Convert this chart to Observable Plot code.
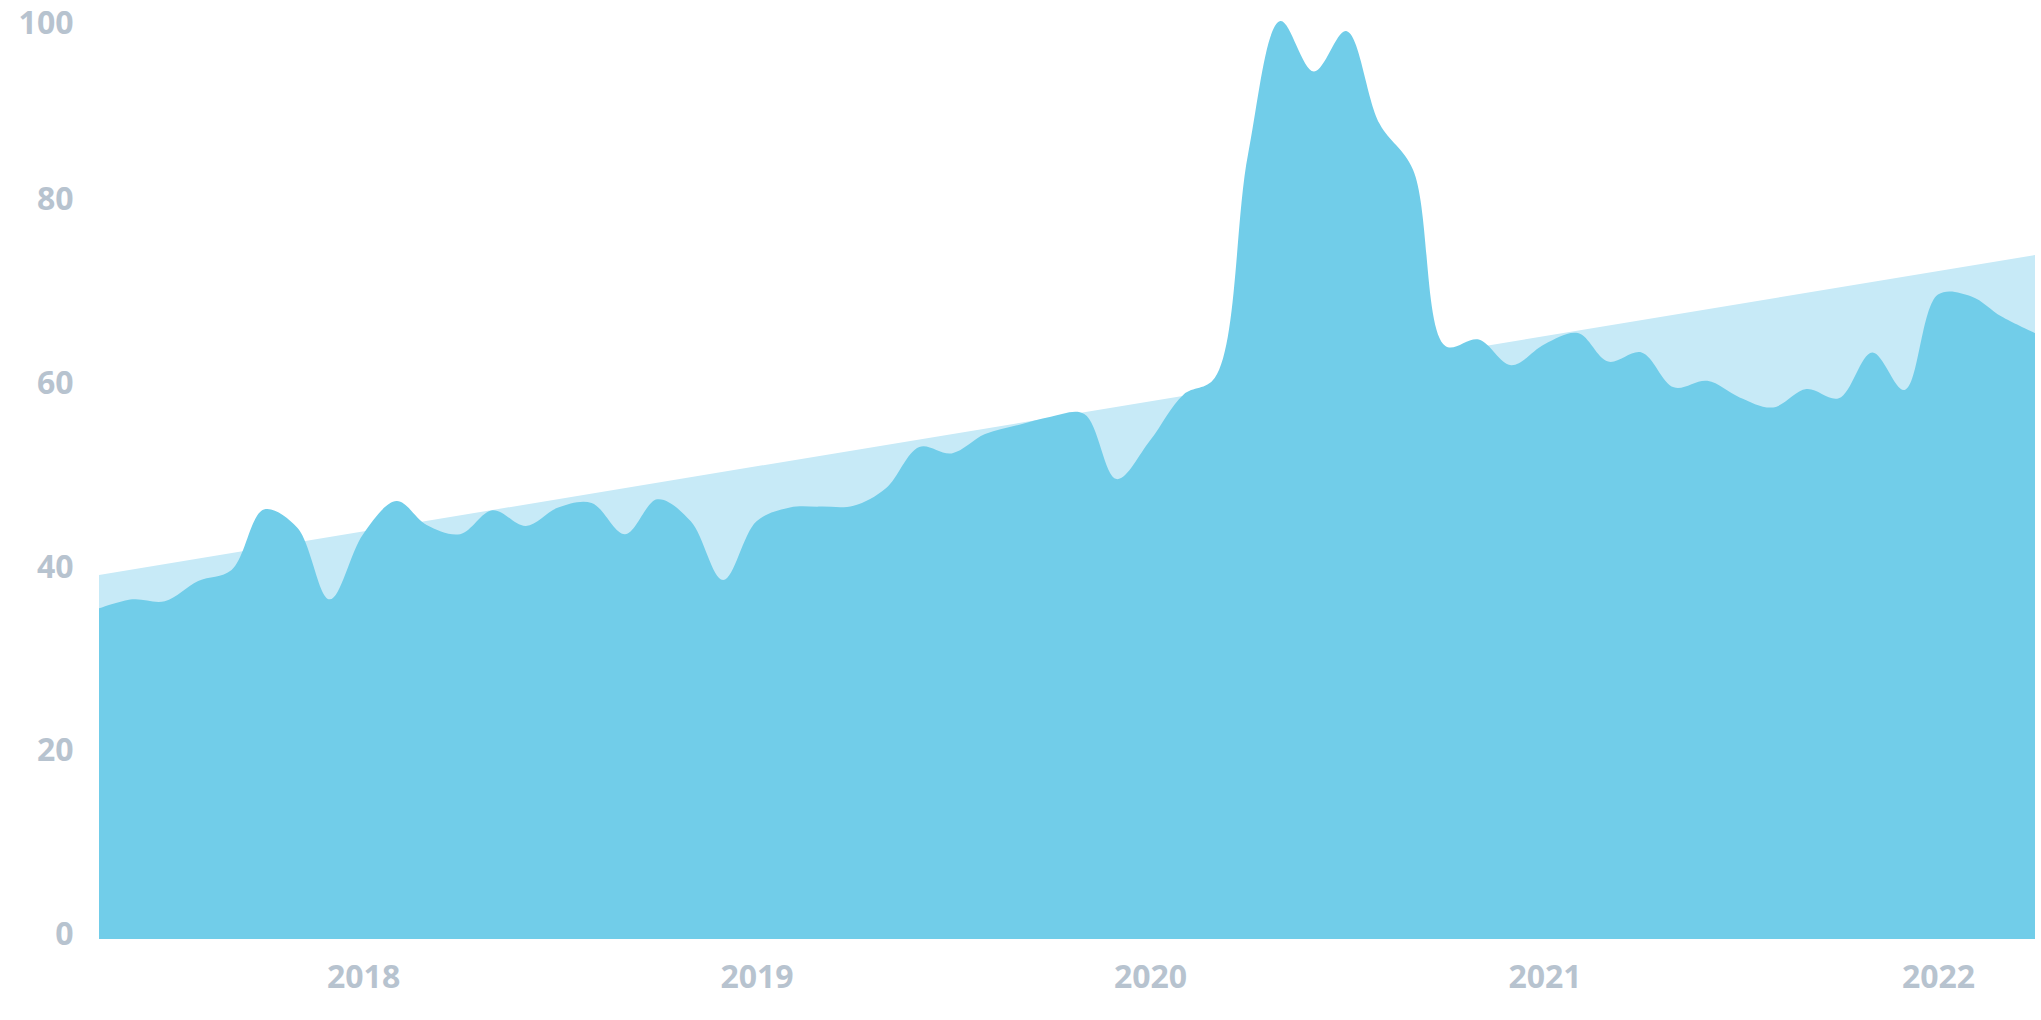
<!DOCTYPE html>
<html>
<head>
<meta charset="utf-8">
<script src="https://cdn.jsdelivr.net/npm/d3@7"></script>
<script src="https://cdn.jsdelivr.net/npm/@observablehq/plot@0.6"></script>
<style>
  html, body { margin: 0; padding: 0; background: #ffffff; }
  #chart svg { display: block; }
</style>
</head>
<body>
<div id="chart"></div>
<script>
// Monthly series, May 2017 – April 2022
const firstMonth = "2017-05-01";
const interest = [
  36.0, 37.0, 36.8, 39.0, 40.2, 46.8, 44.8, 37.0,           // 2017-05 .. 2017-12
  44.1, 47.7, 45.1, 44.1, 46.7, 45.0, 47.0, 47.5, 44.1, 47.9, 45.5, 39.1, // 2018
  45.5, 47.0, 47.1, 47.2, 49.1, 53.6, 52.9, 55.0, 56.0, 56.9, 57.2, 50.1, // 2019
  54.3, 59.3, 61.1, 85.5, 100, 94.5, 98.9, 88.8, 83.8, 64.6, 65.3, 62.5,  // 2020
  64.8, 66.0, 62.9, 63.9, 60.1, 60.8, 59.0, 57.9, 59.9, 58.9, 63.9, 59.8, // 2021
  70.2, 70.0, 67.8, 66.0                                     // 2022-01 .. 2022-04
];
// Trend (straight band behind the series)
const trendDates = ["2017-05-01", "2022-04-01"];
const trendValues = [39.65, 74.5];
// Axis ticks
const yTicks = [0, 20, 40, 60, 80];
const yTopTick = [100];
const xTickYears = [2018, 2019, 2020, 2021, 2022];

const start = new Date(firstMonth);
const series = interest.map((v, i) => ({date: d3.utcMonth.offset(start, i), value: v}));
const trend = trendDates.map((d, i) => ({date: new Date(d), value: trendValues[i]}));

const labelColor = "#b7c3cf";

const chart = Plot.plot({
  width: 2041,
  height: 1020,
  marginLeft: 99,
  marginRight: 6,
  marginTop: 21,
  marginBottom: 81,
  style: {fontFamily: "'Open Sans', sans-serif", fontWeight: "700", background: "#ffffff"},
  x: {type: "utc", domain: [series[0].date, series[series.length - 1].date]},
  y: {domain: [0, 100]},
  marks: [
    Plot.areaY(trend, {x: "date", y: "value", fill: "#c7eaf7"}),
    Plot.areaY(series, {x: "date", y: "value", fill: "#71cde9", curve: "catmull-rom"}),
    Plot.axisY({
      ticks: yTicks, tickSize: 0, tickPadding: 26, fontSize: 32,
      color: labelColor, dy: -5, label: null, tickFormat: d => String(d)
    }),
    Plot.axisY({
      ticks: yTopTick, tickSize: 0, tickPadding: 26, fontSize: 32,
      color: labelColor, dy: 2, label: null, tickFormat: d => String(d)
    }),
    Plot.axisX({
      ticks: xTickYears.map(y => new Date(Date.UTC(y, 0, 1))),
      tickFormat: d3.utcFormat("%Y"), tickSize: 0, tickPadding: 26, fontSize: 32,
      color: labelColor, label: null
    })
  ]
});
document.getElementById("chart").appendChild(chart);
</script>
</body>
</html>
